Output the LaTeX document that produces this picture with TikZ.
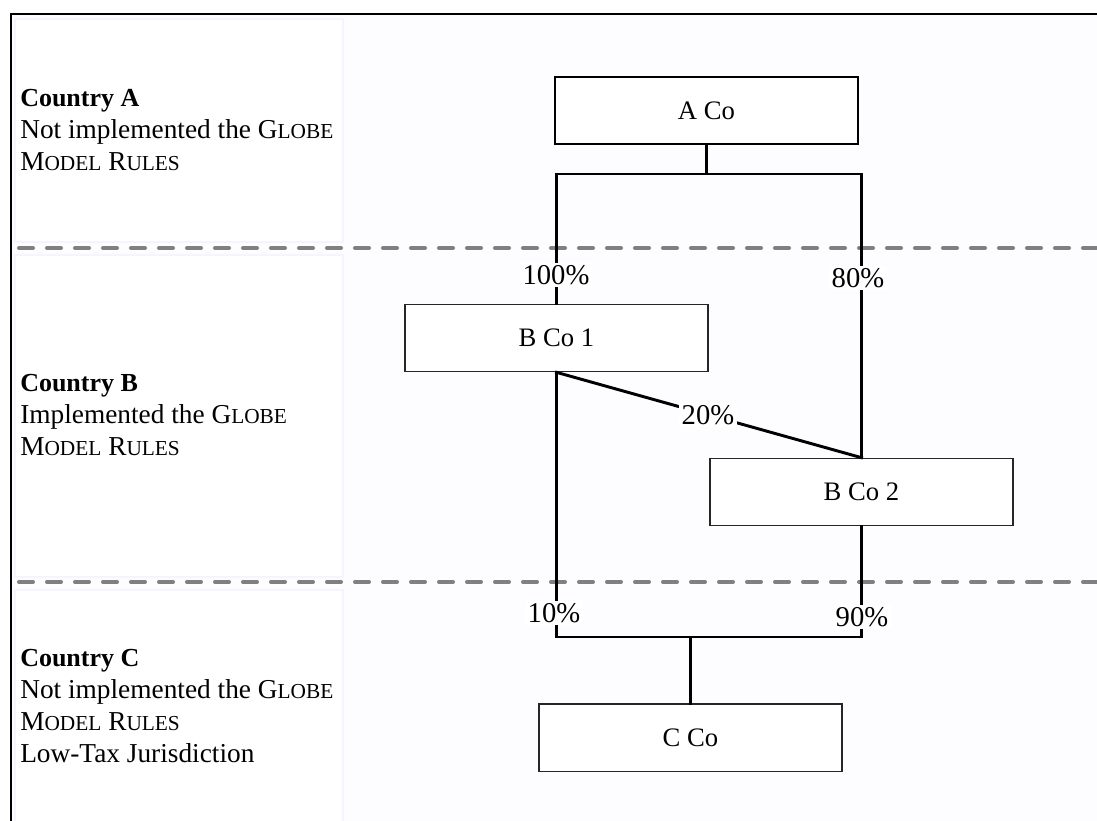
\documentclass[tikz,border=0pt]{standalone}
\usepackage{fontspec}
\setmainfont{Liberation Serif}
\newcommand\fsc[2]{#1{\fontsize{16}{24}\selectfont #2}}
\begin{document}
\begin{tikzpicture}[x=0.75pt,y=-0.75pt,
  every node/.style={font=\fontsize{20}{24}\selectfont},
  cobox/.style={draw=black!85, line width=1pt, fill=white, minimum width=227.25pt, minimum height=50.5pt, inner sep=0pt},
  topbox/.style={cobox, draw=black, line width=1.6pt},
  link/.style={line width=2.2pt, line cap=rect},
  pct/.style={fill=white, inner sep=2pt, font=\fontsize{21.5}{24}\selectfont},
  sep/.style={draw=black!50, line width=3pt, dash pattern=on 10.5pt off 10.5pt, line cap=round},
  panel/.style={fill=white, draw=blue!4, line width=1.2pt},
  cty/.style={anchor=west, align=left, inner sep=0pt, font=\fontsize{20.5}{24}\selectfont}]
\clip (0,0) rectangle (1097,821);
\fill[white] (0,0) rectangle (1097,821);
\fill[blue!0.6] (11,14) rectangle (1110,840);
% left panels
\path[panel] (15,19) rectangle (343,242);
\path[panel] (15,255) rectangle (343,577);
\path[panel] (15,590) rectangle (343,830);
% outer frame
\draw[line width=1.6pt] (11,14) rectangle (1110,840);
% separators
\draw[sep] (19,248) -- (1100,248);
\draw[sep] (19,582) -- (1100,582);
% companies
\node[topbox] (aco) at (706.5,110.5) {A Co};
\node[cobox] (bco1) at (556.5,338) {B Co 1};
\node[cobox] (bco2) at (861.5,492) {B Co 2};
\node[cobox] (cco) at (690.5,737.5) {C Co};
% junctions
\coordinate (jA) at (706.5,174);
\coordinate (jAL) at (556.5,174);
\coordinate (jAR) at (861.5,174);
\coordinate (jCL) at (556.5,637);
\coordinate (jCR) at (861.5,637);
\coordinate (jC) at (690.5,637);
% connectors
\draw[link] (aco.south) -- (jA);
\draw[link] (jAL) -- (jAR);
\draw[link] (jAL) -- (bco1.north);
\draw[link] (jAR) -- (bco2.north);
\draw[link] (bco1.south) -- (bco2.north);
\draw[link] (bco1.south) -- (jCL);
\draw[link] (bco2.south) -- (jCR);
\draw[link] (jCL) -- (jCR);
\draw[link] (jC) -- (cco.north);
% percentages
\node[pct] (p100) at (556,275) {100\%};
\node[pct] (p80) at (858,278) {80\%};
\node[pct] (p20) at (708,415) {20\%};
\node[pct] (p10) at (554,613) {10\%};
\node[pct] (p90) at (862,617) {90\%};
% country texts
\node[cty] (ctyA) at (20,130) {{\fontsize{19.5}{24}\selectfont\bfseries Country A}\\Not implemented the \fsc{G}{LOBE}\\\fsc{M}{ODEL} \fsc{R}{ULES}};
\node[cty] (ctyB) at (20,415) {{\fontsize{19.5}{24}\selectfont\bfseries Country B}\\Implemented the \fsc{G}{LOBE}\\\fsc{M}{ODEL} \fsc{R}{ULES}};
\node[cty] (ctyC) at (20,706) {{\fontsize{19.5}{24}\selectfont\bfseries Country C}\\Not implemented the \fsc{G}{LOBE}\\\fsc{M}{ODEL} \fsc{R}{ULES}\\Low-Tax Jurisdiction};
\end{tikzpicture}
\end{document}
